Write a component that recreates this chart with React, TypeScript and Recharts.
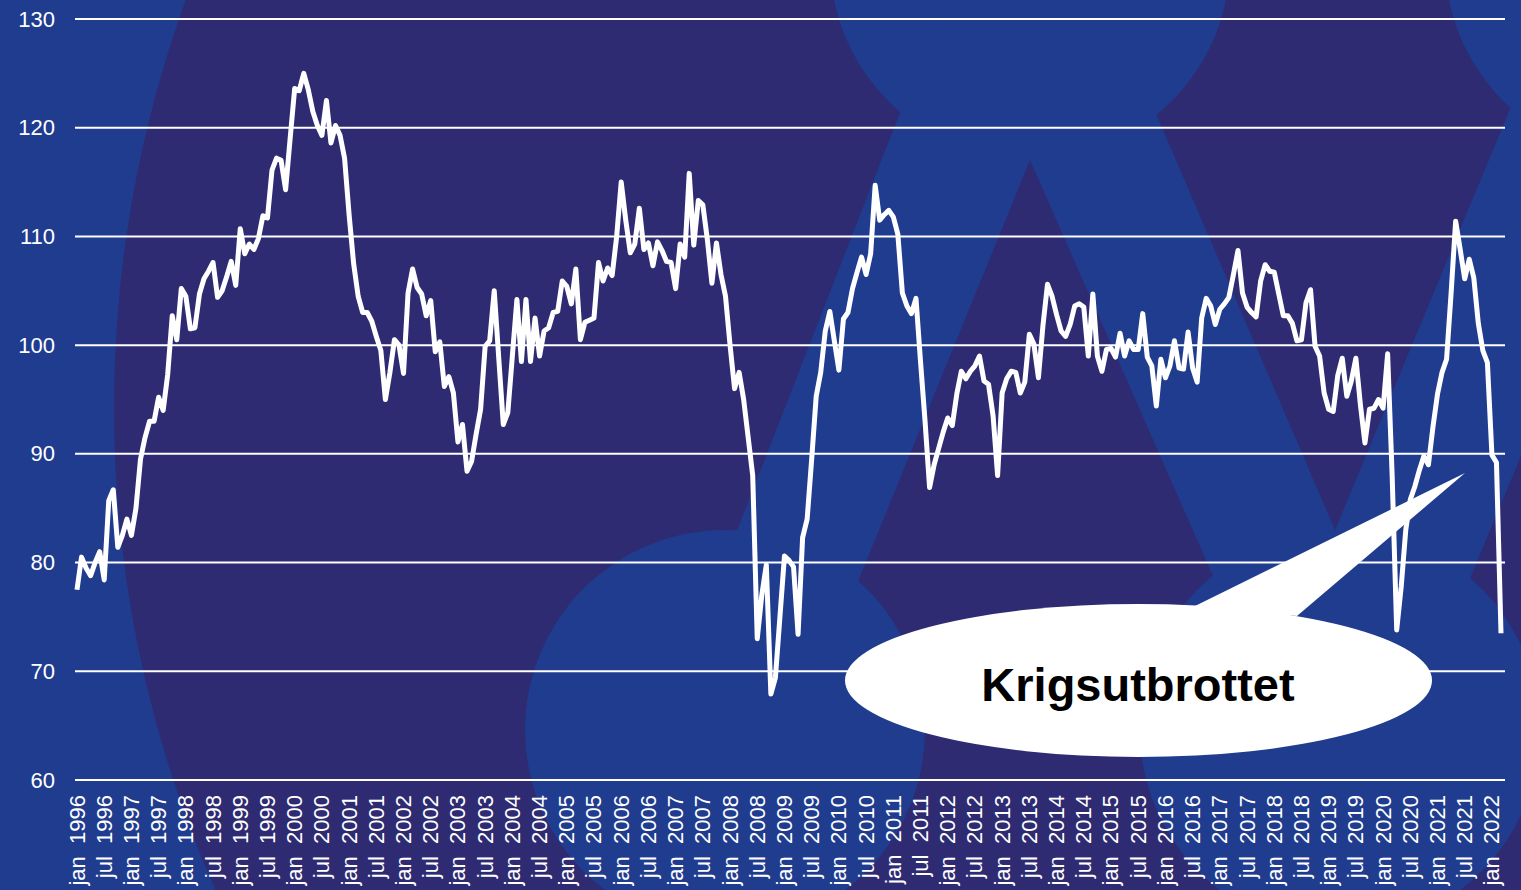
import { LineChart, Line, XAxis, YAxis, CartesianGrid } from "recharts";

const MONTHS = ["jan", "feb", "mar", "apr", "maj", "jun", "jul", "aug", "sep", "okt", "nov", "dec"];

// monthly index values
const v1996 = [77.5, 80.5, 79.5, 78.8, 80, 81, 78.4, 85.7, 86.7, 81.4, 82.5, 84];
const v1997 = [82.5, 85, 89.5, 91.5, 93, 93, 95.2, 94, 97.3, 102.7, 100.5, 105.2];
const v1998 = [104.5, 101.5, 101.6, 104.7, 106.1, 106.8, 107.6, 104.4, 105, 106.3, 107.7, 105.5];
const v1999 = [110.7, 108.4, 109.3, 108.8, 109.8, 111.9, 111.7, 116.1, 117.2, 117, 114.3, 119];
const v2000 = [123.6, 123.4, 125, 123.5, 121.5, 120.2, 119.3, 122.5, 118.6, 120.2, 119.3, 117.2];
const v2001 = [112, 107.5, 104.5, 103, 103, 102.2, 100.8, 99.5, 95, 97.5, 100.5, 100];
const v2002 = [97.4, 104.8, 107, 105.3, 104.7, 102.7, 104.1, 99.4, 100.3, 96.2, 97.1, 95.6];
const v2003 = [91.1, 92.7, 88.4, 89.3, 91.8, 94.1, 99.9, 100.4, 105, 98.8, 92.7, 93.8];
const v2004 = [99, 104.2, 98.5, 104.2, 98.5, 102.5, 99, 101.3, 101.6, 103, 103.1, 105.9];
const v2005 = [105.4, 103.8, 107, 100.5, 102.1, 102.3, 102.5, 107.6, 105.9, 107.1, 106.4, 110];
const v2006 = [115, 111.5, 108.5, 109.3, 112.6, 108.8, 109.4, 107.3, 109.5, 108.7, 107.7, 107.6];
const v2007 = [105.2, 109.3, 108.1, 115.8, 109.2, 113.3, 112.9, 109.7, 105.7, 109.4, 106.5, 104.5];
const v2008 = [100, 96, 97.5, 95, 91.5, 88, 73, 77, 79.8, 67.9, 69.4, 75];
const v2009 = [80.6, 80.2, 79.6, 73.4, 82.3, 84, 89.5, 95.3, 97.5, 101.3, 103.1, 100.4];
const v2010 = [97.7, 102.4, 103, 105.2, 106.7, 108.1, 106.5, 108.4, 114.7, 111.5, 112, 112.4];
const v2011 = [111.8, 110.2, 104.8, 103.6, 102.9, 104.3, 98.5, 93, 86.9, 89, 90.5, 92];
const v2012 = [93.3, 92.6, 95.5, 97.6, 96.9, 97.6, 98.1, 99, 96.7, 96.4, 93.5, 88];
const v2013 = [95.6, 96.9, 97.6, 97.5, 95.6, 96.6, 101, 100.1, 97, 101.8, 105.6, 104.5];
const v2014 = [102.8, 101.3, 100.8, 101.9, 103.6, 103.8, 103.5, 99, 104.7, 99, 97.6, 99.6];
const v2015 = [99.7, 98.9, 101.1, 99, 100.4, 99.6, 99.6, 102.9, 98.9, 98.1, 94.4, 98.7];
const v2016 = [97, 98.1, 100.4, 97.9, 97.8, 101.2, 97.9, 96.6, 102.5, 104.3, 103.6, 101.9];
const v2017 = [103.3, 103.8, 104.4, 106.5, 108.7, 104.8, 103.5, 103, 102.6, 105.9, 107.4, 106.8];
const v2018 = [106.7, 104.7, 102.7, 102.7, 102, 100.4, 100.5, 103.9, 105.1, 99.9, 99, 95.6];
const v2019 = [94.1, 93.9, 97.2, 98.8, 95.3, 96.7, 98.8, 94.5, 91, 94.1, 94.2, 95];
const v2020 = [94.2, 99.2, 88, 73.8, 77.8, 83, 85.8, 87, 88.5, 89.8, 89, 92.5];
const v2021 = [95.5, 97.5, 98.7, 104.8, 111.4, 108.8, 106.1, 107.9, 106.2, 102, 99.5, 98.4];
const v2022 = [89.9, 89.2, 73.5];

const yTicks = [60, 70, 80, 90, 100, 110, 120, 130];

const years: [number, number[]][] = [
  [1996, v1996], [1997, v1997], [1998, v1998], [1999, v1999], [2000, v2000],
  [2001, v2001], [2002, v2002], [2003, v2003], [2004, v2004], [2005, v2005],
  [2006, v2006], [2007, v2007], [2008, v2008], [2009, v2009], [2010, v2010],
  [2011, v2011], [2012, v2012], [2013, v2013], [2014, v2014], [2015, v2015],
  [2016, v2016], [2017, v2017], [2018, v2018], [2019, v2019], [2020, v2020],
  [2021, v2021], [2022, v2022],
];

const data = years.flatMap(([yr, vals]) =>
  vals.map((v, m) => ({ month: `${MONTHS[m]} ${yr}`, v }))
);

const FONT = "Arial, 'Liberation Sans', sans-serif";
const LIGHT = "#203c8f";
const DARK = "#2e2b72";

function Background() {
  return (
    <svg width={1521} height={890} style={{ position: "absolute", left: 0, top: 0 }}>
      <rect width={1521} height={890} fill={LIGHT} />
      <circle cx={1310} cy={408} r={1196} fill={DARK} />
      <circle cx={1030} cy={-40} r={200} fill={LIGHT} />
      <circle cx={1645} cy={-40} r={200} fill={LIGHT} />
      <circle cx={725} cy={730} r={200} fill={LIGHT} />
      <circle cx={1340} cy={730} r={200} fill={LIGHT} />
      <polygon points="959.5,-40 1111.6,-40 797.4,730 659.2,730" fill={LIGHT} />
      <polygon points="942,-40 1089.9,-40 1421,730 1280.8,730" fill={LIGHT} />
      <polygon points="1572,-40 1727,-40 1407,730 1252,730" fill={LIGHT} />
    </svg>
  );
}

function Bubble() {
  return (
    <svg width={1521} height={890} style={{ position: "absolute", left: 0, top: 0, pointerEvents: "none" }}>
      <polygon points="1195,606 1465,473 1297,616" fill="#fff" />
      <ellipse cx={1138.5} cy={680.5} rx={293.5} ry={76.5} fill="#fff" />
      <text x={1138} y={701} textAnchor="middle" fontFamily={FONT} fontWeight="bold" fontSize={47} fill="#000">
        Krigsutbrottet
      </text>
    </svg>
  );
}

const YTick = (props: any) => (
  <text x={55} y={props.y} textAnchor="end" dominantBaseline="central" fill="#fff" fontSize={22} fontFamily={FONT}>
    {props.payload.value}
  </text>
);

const XTick = (props: any) => (
  <text
    x={props.x}
    y={795}
    transform={`rotate(-90, ${props.x}, 795)`}
    textAnchor="end"
    dominantBaseline="central"
    fill="#fff"
    fontSize={22}
    fontFamily={FONT}
    style={{ whiteSpace: "pre" }}
  >
    {props.payload.value.replace(" ", "  ")}
  </text>
);

export default function App() {
  return (
    <div style={{ position: "absolute", left: 0, top: 0, width: 1521, height: 890, overflow: "hidden" }}>
      <Background />
      <div style={{ position: "absolute", left: 0, top: 0 }}>
        <LineChart width={1521} height={890} data={data} margin={{ top: 19, right: 16, bottom: 0, left: 0 }}>
          <CartesianGrid vertical={false} stroke="#fff" strokeWidth={2} />
          <XAxis
            dataKey="month"
            scale="point"
            padding={{ left: 2, right: 4 }}
            interval={5}
            height={110}
            axisLine={false}
            tickLine={false}
            tick={<XTick />}
          />
          <YAxis
            domain={[60, 130]}
            ticks={yTicks}
            width={75}
            axisLine={false}
            tickLine={false}
            tick={<YTick />}
          />
          <Line
            dataKey="v"
            type="linear"
            stroke="#fff"
            strokeWidth={5}
            strokeLinejoin="round"
            dot={false}
            isAnimationActive={false}
          />
        </LineChart>
      </div>
      <Bubble />
    </div>
  );
}
